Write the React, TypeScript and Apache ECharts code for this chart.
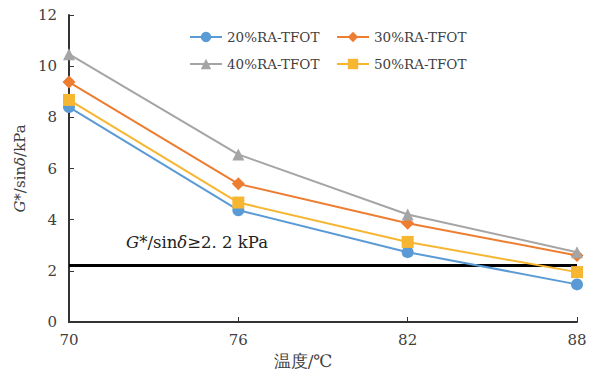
import React, { useEffect, useRef } from "react";
import * as echarts from "echarts";

const temps = [70, 76, 82, 88];
const s20 = [8.4, 4.37, 2.73, 1.47];
const s30 = [9.38, 5.4, 3.86, 2.6];
const s40 = [10.47, 6.55, 4.2, 2.73];
const s50 = [8.68, 4.67, 3.13, 1.95];
const names = ["20%RA-TFOT", "30%RA-TFOT", "40%RA-TFOT", "50%RA-TFOT"];
const colors = ["#5B9BD5", "#ED7D31", "#A5A5A5", "#F6B632"];
const symbols = ["circle", "diamond", "triangle", "rect"];
const threshold = 2.2;

const FONT = "DejaVu Serif";

export default function App() {
  const ref = useRef<HTMLDivElement>(null);
  useEffect(() => {
    const chart = echarts.init(ref.current!, null, { renderer: "svg" });
    const all = [s20, s30, s40, s50];
    const series: any[] = all.map((vals, i) => ({
      name: names[i],
      type: "line",
      data: temps.map((t, j) => [t, vals[j]]),
      symbol: symbols[i],
      symbolSize: i === 1 ? 13 : 12,
      lineStyle: { color: colors[i], width: 2 },
      itemStyle: { color: colors[i] },
      z: 3,
    }));
    series[0].markLine = {
      silent: true,
      symbol: "none",
      label: { show: false },
      lineStyle: { color: "#000", width: 3, type: "solid" },
      data: [{ yAxis: threshold }],
      z: 2,
    };
    const legendCommon = {
      orient: "vertical",
      padding: 0,
      itemWidth: 32,
      itemHeight: 13,
      itemGap: 13,
      textStyle: { fontFamily: FONT, fontSize: 13.5, color: "#404040" },
    };
    chart.setOption({
      animation: false,
      textStyle: { fontFamily: FONT },
      grid: { left: 69, right: 22, top: 15, bottom: 54 },
      legend: [
        { ...legendCommon, data: [names[0], names[2]], left: 189, top: 30 },
        { ...legendCommon, data: [names[1], names[3]], left: 336, top: 30 },
      ],
      xAxis: {
        type: "value",
        min: 70,
        max: 88,
        interval: 6,
        name: "温度/℃",
        nameLocation: "middle",
        nameGap: 30,
        nameTextStyle: { fontFamily: FONT, fontSize: 17, color: "#404040", padding: [0, 40, 0, 0] },
        axisLine: { lineStyle: { color: "#333", width: 2 } },
        axisTick: { inside: true, length: 5, lineStyle: { color: "#333" } },
        axisLabel: { fontFamily: FONT, fontSize: 15, color: "#404040", margin: 10 },
        splitLine: { show: false },
      },
      yAxis: {
        type: "value",
        min: 0,
        max: 12,
        interval: 2,
        name: "{i|G}*/sin{i|δ}/kPa",
        nameLocation: "middle",
        nameGap: 38,
        nameTextStyle: {
          fontFamily: FONT,
          fontSize: 15,
          color: "#404040",
          rich: { i: { fontStyle: "italic", fontFamily: FONT, fontSize: 15, color: "#404040" } },
        },
        axisLine: { show: true, lineStyle: { color: "#333", width: 2 } },
        axisTick: { show: true, inside: true, length: 5, lineStyle: { color: "#333" } },
        axisLabel: { fontFamily: FONT, fontSize: 15, color: "#404040", margin: 12 },
        splitLine: { show: false },
      },
      graphic: [
        {
          type: "text",
          left: 126,
          top: 234,
          style: {
            text: "{i|G}*/sin{i|δ}≥2. 2 kPa",
            fontFamily: FONT,
            fontSize: 16.5,
            fill: "#222",
            rich: { i: { fontStyle: "italic", fontFamily: FONT, fontSize: 16.5, fill: "#222" } },
          },
        },
      ],
      series,
    });
    return () => chart.dispose();
  }, []);
  return <div ref={ref} style={{ width: 599, height: 376, position: "absolute", left: 0, top: 0 }} />;
}
